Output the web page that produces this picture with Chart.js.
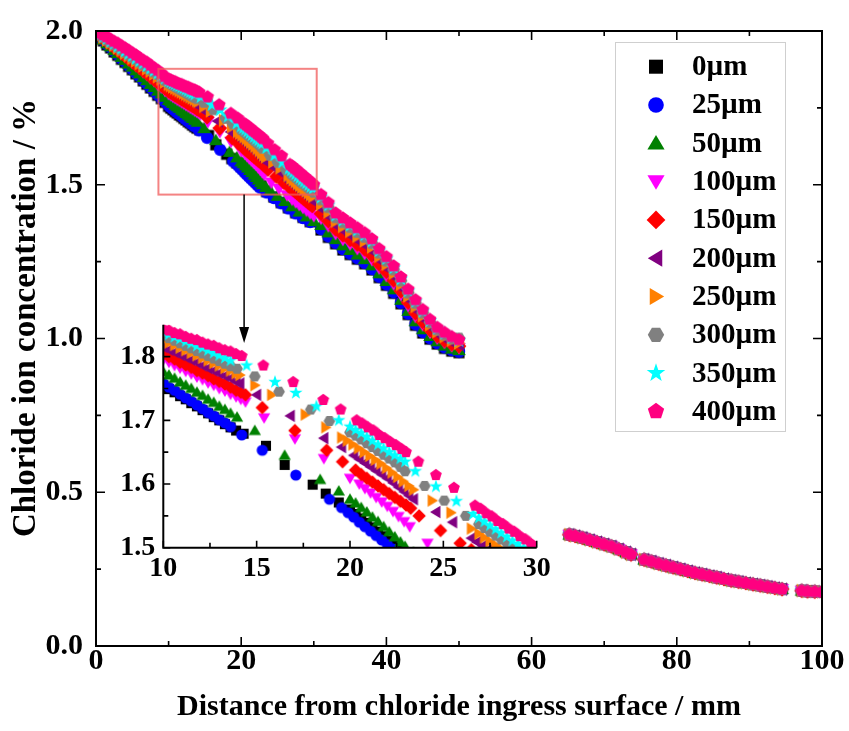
<!DOCTYPE html>
<html><head><meta charset="utf-8">
<script src="https://cdn.jsdelivr.net/npm/chart.js@4.4.1/dist/chart.umd.min.js"></script>
<style>
html,body{margin:0;padding:0;background:#fff;}
#wrap{position:relative;width:849px;height:731px;background:#fff;}
#main{position:absolute;left:0;top:0;}
#inset{position:absolute;left:100px;top:300px;}
</style></head><body>
<div id="wrap"><canvas id="main" width="849" height="731"></canvas><canvas id="inset" width="460" height="300"></canvas></div>
<script>
// ---------- DATA ----------
const labels = ['0µm','25µm','50µm','100µm','150µm','200µm','250µm','300µm','350µm','400µm'];
const xTicksMain = [0,20,40,60,80,100];
const yTicksMain = [0.0,0.5,1.0,1.5,2.0];

// shared x grids (mm)
const xHead = [0,0.5,1,1.5,2,2.5,3,3.5,4,4.5,5,5.5,6,6.5,7,7.5,8,8.5,9,9.5];
const xMid  = [31,32,33,34,35,36,37,38,39,40,41,42,43,44,45,46,47,48,49,50];
const xTail = [65.2,66,67,68,69,70,71,72,73,73.7,75.5,76.5,77.5,78.5,79.5,80.5,81.5,82.5,83.5,84.5,85.5,86.5,87.5,88.5,89.5,90.5,91.5,92.5,93.5,94.5,97.2,98,99,100];
const yTail = [0.362,0.358,0.352,0.345,0.338,0.331,0.324,0.315,0.305,0.298,0.281,0.275,0.268,0.262,0.256,0.250,0.244,0.238,0.233,0.228,0.223,0.218,0.213,0.209,0.205,0.201,0.197,0.193,0.189,0.185,0.180,0.178,0.177,0.176];

// 0 µm
const head0 = [1.991,1.979,1.968,1.955,1.945,1.932,1.921,1.908,1.898,1.885,1.874,1.861,1.851,1.838,1.827,1.815,1.804,1.791,1.780,1.768];
const inX0 = [10.0,10.3,10.6,10.9,11.2,11.5,11.8,12.1,12.4,12.7,13.0,13.3,13.6,13.9,14.3,15.5,16.5,18.0,18.7,19.4,20.0,20.3,20.6,20.9,21.2,21.5,21.8,22.1,22.4,22.7,23.5,24.5,25.5,26.5,27.5,28.5,29.5];
const inY0 = [1.755,1.749,1.744,1.738,1.733,1.727,1.722,1.716,1.711,1.705,1.700,1.694,1.689,1.684,1.679,1.660,1.630,1.599,1.585,1.571,1.560,1.553,1.546,1.539,1.532,1.525,1.518,1.511,1.504,1.497,1.478,1.460,1.442,1.425,1.409,1.394,1.380];
const mid0 = [1.353,1.329,1.308,1.288,1.273,1.258,1.243,1.223,1.198,1.173,1.147,1.113,1.078,1.043,1.018,0.998,0.982,0.968,0.959,0.954];
// 25 µm
const head25 = [1.992,1.980,1.970,1.957,1.947,1.934,1.923,1.910,1.900,1.887,1.876,1.863,1.853,1.840,1.829,1.817,1.806,1.793,1.782,1.770];
const inX25 = [10.0,10.3,10.6,10.9,11.2,11.5,11.8,12.1,12.4,12.7,13.0,13.3,13.6,14.2,15.3,17.1,18.9,19.55,19.9,20.2,20.5,20.8,21.1,21.4,21.7,22.0,22.3,22.6,23.5,24.5,25.5,26.5,27.5,28.5,29.5];
const inY25 = [1.758,1.752,1.747,1.741,1.735,1.730,1.724,1.718,1.712,1.707,1.701,1.696,1.690,1.677,1.653,1.614,1.576,1.563,1.555,1.548,1.540,1.533,1.526,1.519,1.512,1.505,1.498,1.491,1.475,1.457,1.440,1.423,1.407,1.392,1.379];
const mid25 = [1.356,1.332,1.311,1.291,1.276,1.261,1.246,1.226,1.201,1.176,1.150,1.116,1.081,1.046,1.021,1.001,0.985,0.971,0.962,0.957];
// 50 µm
const head50 = [1.993,1.982,1.972,1.960,1.950,1.938,1.928,1.916,1.906,1.894,1.884,1.872,1.862,1.850,1.840,1.828,1.818,1.806,1.797,1.786];
const inX50 = [10.0,10.3,10.6,10.9,11.2,11.5,11.8,12.1,12.4,12.7,13.0,13.3,13.6,13.95,14.9,16.5,18.4,19.4,20.0,20.3,20.6,20.9,21.2,21.5,21.8,22.1,22.4,22.7,22.95,23.4,24.0,25.0,26.0,27.0,28.0,29.0,30.0];
const inY50 = [1.776,1.771,1.766,1.760,1.755,1.750,1.744,1.739,1.733,1.728,1.722,1.717,1.711,1.705,1.684,1.645,1.607,1.589,1.576,1.570,1.563,1.556,1.548,1.541,1.533,1.525,1.517,1.509,1.502,1.493,1.482,1.464,1.447,1.430,1.413,1.397,1.382];
const mid50 = [1.369,1.345,1.323,1.303,1.288,1.273,1.258,1.238,1.212,1.187,1.160,1.126,1.090,1.056,1.030,1.008,0.991,0.977,0.967,0.962];
// 100 µm
const head100 = [1.994,1.984,1.975,1.964,1.955,1.945,1.936,1.925,1.916,1.905,1.896,1.886,1.877,1.866,1.857,1.846,1.837,1.825,1.816,1.805];
const inX100 = [10.0,10.3,10.6,10.9,11.2,11.5,11.8,12.1,12.4,12.7,13.0,13.3,13.6,13.9,14.15,14.4,15.4,17.05,18.6,20.0,20.5,20.8,21.1,21.4,21.7,22.0,22.3,22.6,22.9,23.2,24.15,25.2,26.3,27.0,27.5,28.0,28.5,29.0,29.5,30.0];
const inY100 = [1.795,1.791,1.786,1.782,1.777,1.773,1.768,1.764,1.759,1.755,1.750,1.746,1.741,1.737,1.733,1.729,1.704,1.671,1.640,1.609,1.600,1.593,1.586,1.579,1.572,1.565,1.557,1.549,1.541,1.533,1.507,1.487,1.466,1.452,1.443,1.434,1.425,1.416,1.407,1.398];
const mid100 = [1.390,1.365,1.340,1.321,1.306,1.291,1.275,1.255,1.228,1.203,1.176,1.141,1.105,1.070,1.043,1.019,1.000,0.986,0.975,0.969];
// 150 µm
const head150 = [1.994,1.985,1.976,1.966,1.957,1.947,1.938,1.928,1.919,1.909,1.900,1.890,1.881,1.871,1.862,1.852,1.843,1.833,1.824,1.814];
const inX150 = [10.0,10.3,10.6,10.9,11.2,11.5,11.8,12.1,12.4,12.7,13.0,13.3,13.6,13.9,14.15,14.4,15.3,17.05,18.75,19.6,20.3,20.6,20.9,21.2,21.5,21.8,22.1,22.4,22.7,23.0,23.25,23.7,24.85,25.9,26.5,26.8,27.1,27.4,27.7,28.0,28.3,28.6,28.9,29.2,29.5,29.8];
const inY150 = [1.804,1.800,1.796,1.791,1.787,1.783,1.778,1.774,1.770,1.765,1.761,1.757,1.752,1.747,1.744,1.740,1.720,1.684,1.653,1.635,1.622,1.615,1.609,1.603,1.597,1.591,1.585,1.579,1.573,1.567,1.562,1.550,1.527,1.507,1.497,1.491,1.485,1.479,1.473,1.467,1.461,1.455,1.449,1.443,1.437,1.431];
const mid150 = [1.406,1.382,1.355,1.336,1.321,1.306,1.290,1.270,1.242,1.217,1.189,1.154,1.117,1.082,1.054,1.028,1.008,0.993,0.982,0.975];
// 200 µm
const head200 = [1.995,1.986,1.978,1.968,1.960,1.950,1.942,1.932,1.924,1.914,1.906,1.896,1.888,1.878,1.870,1.860,1.852,1.842,1.834,1.824];
const inX200 = [10.0,10.3,10.6,10.9,11.2,11.5,11.8,12.1,12.4,12.7,13.0,13.3,13.6,13.9,14.1,15.0,16.8,18.6,19.55,20.2,20.5,20.8,21.1,21.4,21.7,22.0,22.3,22.6,22.9,23.15,23.4,24.6,25.5,26.5,26.8,27.1,27.4,27.7,28.0,28.3,28.6,28.9,29.2,29.5,29.8];
const inY200 = [1.815,1.811,1.807,1.803,1.799,1.795,1.791,1.786,1.782,1.778,1.774,1.770,1.766,1.761,1.758,1.740,1.707,1.672,1.658,1.645,1.639,1.633,1.627,1.621,1.615,1.609,1.602,1.595,1.588,1.582,1.576,1.556,1.540,1.515,1.509,1.503,1.497,1.491,1.485,1.479,1.473,1.467,1.461,1.455,1.449];
const mid200 = [1.423,1.398,1.369,1.352,1.336,1.320,1.305,1.285,1.256,1.230,1.202,1.166,1.128,1.094,1.065,1.038,1.016,1.000,0.988,0.980];
// 250 µm
const head250 = [1.995,1.987,1.979,1.971,1.962,1.954,1.945,1.937,1.928,1.920,1.911,1.903,1.894,1.886,1.877,1.869,1.860,1.851,1.843,1.834];
const inX250 = [10.0,10.3,10.6,10.9,11.2,11.5,11.8,12.1,12.4,12.7,13.0,13.3,13.6,13.9,14.1,14.9,15.8,17.6,18.7,19.55,19.85,20.15,20.45,20.75,21.05,21.35,21.65,21.95,22.25,22.55,22.85,23.15,23.4,24.4,25.4,26.5,26.9,27.2,27.5,27.8,28.1,28.4,28.7,29.0,29.3,29.6,29.9];
const inY250 = [1.826,1.822,1.818,1.814,1.810,1.806,1.802,1.798,1.794,1.790,1.786,1.782,1.778,1.774,1.771,1.755,1.740,1.709,1.689,1.673,1.668,1.662,1.656,1.650,1.644,1.638,1.632,1.625,1.618,1.611,1.604,1.597,1.591,1.574,1.555,1.530,1.522,1.516,1.510,1.504,1.498,1.492,1.486,1.480,1.474,1.468,1.462];
const mid250 = [1.437,1.411,1.381,1.364,1.348,1.332,1.317,1.297,1.267,1.241,1.212,1.176,1.138,1.104,1.074,1.045,1.022,1.006,0.994,0.985];
// 300 µm
const head300 = [1.996,1.988,1.981,1.972,1.964,1.957,1.948,1.940,1.933,1.924,1.916,1.909,1.900,1.892,1.885,1.876,1.868,1.860,1.850,1.841];
const inX300 = [10.0,10.3,10.6,10.9,11.2,11.5,11.8,12.1,12.4,12.7,13.0,13.3,13.6,13.95,14.9,16.2,17.9,18.9,20.0,20.3,20.6,20.9,21.2,21.5,21.8,22.1,22.4,22.7,22.95,24.0,25.05,26.2,26.9,27.2,27.5,27.8,28.1,28.4,28.75,29.1,29.4,29.7,30.0];
const inY300 = [1.833,1.829,1.825,1.821,1.817,1.813,1.809,1.805,1.801,1.797,1.793,1.789,1.785,1.781,1.769,1.745,1.717,1.699,1.681,1.676,1.670,1.664,1.658,1.652,1.646,1.640,1.634,1.627,1.620,1.597,1.574,1.550,1.537,1.531,1.525,1.519,1.513,1.507,1.501,1.495,1.489,1.483,1.477];
const mid300 = [1.452,1.427,1.394,1.378,1.362,1.346,1.330,1.310,1.279,1.253,1.224,1.188,1.149,1.115,1.084,1.053,1.029,1.013,1.000,1.000];
// 350 µm
const head350 = [1.996,1.990,1.982,1.975,1.966,1.959,1.950,1.943,1.934,1.926,1.919,1.910,1.902,1.895,1.886,1.878,1.871,1.862,1.854,1.846];
const inX350 = [10.0,10.3,10.6,10.9,11.2,11.5,11.8,12.1,12.4,12.7,13.0,13.3,13.6,14.46,15.98,17.1,18.2,19.4,20.0,20.3,20.6,20.9,21.2,21.5,21.8,22.1,22.4,22.7,22.95,23.5,24.6,25.7,26.6,26.9,27.2,27.5,27.8,28.1,28.4,28.7,29.0,29.3,29.6,29.9];
const inY350 = [1.838,1.835,1.831,1.828,1.824,1.821,1.817,1.814,1.810,1.806,1.802,1.798,1.794,1.786,1.760,1.743,1.722,1.700,1.690,1.685,1.680,1.674,1.668,1.662,1.656,1.650,1.645,1.640,1.635,1.620,1.596,1.573,1.553,1.547,1.541,1.535,1.529,1.523,1.517,1.511,1.506,1.500,1.494,1.488];
const mid350 = [1.459,1.433,1.400,1.384,1.368,1.352,1.336,1.316,1.285,1.259,1.229,1.193,1.154,1.120,1.088,1.057,1.032,1.016,1.002,0.993];
// 400 µm
const head400 = [1.998,1.993,1.987,1.981,1.973,1.966,1.960,1.952,1.945,1.937,1.929,1.922,1.913,1.905,1.898,1.889,1.880,1.872,1.862,1.852];
const inX400 = [10.0,10.3,10.6,10.9,11.2,11.5,11.8,12.1,12.4,12.7,13.0,13.3,13.6,13.9,14.2,15.36,16.96,18.57,19.5,20.36,20.66,20.96,21.26,21.56,21.86,22.16,22.46,22.76,23.0,23.66,24.6,25.57,26.7,27.0,27.3,27.6,27.9,28.2,28.5,28.8,29.1,29.4,29.7,30.0];
const inY400 = [1.843,1.841,1.837,1.835,1.831,1.828,1.826,1.822,1.819,1.817,1.813,1.810,1.808,1.804,1.801,1.786,1.760,1.732,1.717,1.700,1.695,1.689,1.684,1.677,1.672,1.666,1.661,1.655,1.650,1.635,1.614,1.594,1.566,1.561,1.554,1.549,1.542,1.537,1.530,1.525,1.518,1.513,1.506,1.500];
const mid400 = [1.468,1.442,1.408,1.392,1.376,1.360,1.344,1.324,1.292,1.266,1.236,1.200,1.160,1.126,1.094,1.062,1.036,1.020,1.006,0.996];

// ---------- STYLE ----------
const colors = ['#000000','#0000FF','#008000','#FF00FF','#FF0000','#800080','#FF8000','#808080','#00FFFF','#FF0080'];
const shapes = ['square','circle','up','down','diamond','left','right','hexagon','star','pentagon'];
const heads = [head0,head25,head50,head100,head150,head200,head250,head300,head350,head400];
const inXs = [inX0,inX25,inX50,inX100,inX150,inX200,inX250,inX300,inX350,inX400];
const inYs = [inY0,inY25,inY50,inY100,inY150,inY200,inY250,inY300,inY350,inY400];
const mids = [mid0,mid25,mid50,mid100,mid150,mid200,mid250,mid300,mid350,mid400];

const FONT = "'Liberation Serif','Times New Roman',serif";
Chart.defaults.font.family = FONT;
Chart.defaults.color = '#000';

function buildPoints(i){
  const p = [];
  xHead.forEach((x,k)=>p.push({x, y:heads[i][k]}));
  const n = Math.min(inXs[i].length, inYs[i].length);
  for(let k=0;k<n;k++) p.push({x:inXs[i][k], y:inYs[i][k]});
  xMid.forEach((x,k)=>p.push({x, y:mids[i][k]}));
  xTail.forEach((x,k)=>p.push({x, y:yTail[k]}));
  return p;
}

function shapePath(g, shape, r){
  g.beginPath();
  const poly = pts=>{g.moveTo(pts[0][0],pts[0][1]); for(let k=1;k<pts.length;k++) g.lineTo(pts[k][0],pts[k][1]); g.closePath();};
  const reg = (n,R,a0)=>{const p=[];for(let k=0;k<n;k++){const a=a0+k*2*Math.PI/n;p.push([R*Math.cos(a),R*Math.sin(a)]);}poly(p);};
  switch(shape){
    case 'square': g.rect(-0.9*r,-0.9*r,1.8*r,1.8*r); break;
    case 'circle': g.arc(0,0,r,0,2*Math.PI); break;
    case 'up': poly([[0,-1.05*r],[1.1*r,0.8*r],[-1.1*r,0.8*r]]); break;
    case 'down': poly([[0,1.05*r],[1.1*r,-0.8*r],[-1.1*r,-0.8*r]]); break;
    case 'left': poly([[-1.05*r,0],[0.8*r,-1.1*r],[0.8*r,1.1*r]]); break;
    case 'right': poly([[1.05*r,0],[-0.8*r,-1.1*r],[-0.8*r,1.1*r]]); break;
    case 'diamond': poly([[0,-1.2*r],[1.2*r,0],[0,1.2*r],[-1.2*r,0]]); break;
    case 'hexagon': reg(6,1.05*r,0); break;
    case 'star': { const p=[]; for(let k=0;k<10;k++){const a=-Math.PI/2+k*Math.PI/5; const R=(k%2)?0.5*r:1.25*r; p.push([R*Math.cos(a),R*Math.sin(a)]);} poly(p); } break;
    case 'pentagon': reg(5,1.1*r,-Math.PI/2); break;
  }
}
function makeMarker(shape,color,r){
  const s = Math.ceil(2.8*r)+2;
  const c = document.createElement('canvas'); c.width=s; c.height=s;
  const g = c.getContext('2d'); g.translate(s/2,s/2); shapePath(g,shape,r); g.fillStyle=color; g.fill();
  return c;
}

const MAIN_R = 6.2, INSET_R = 5.6, LEG_R = 7.8;

function minorOf(vals){const o=[];for(let k=0;k<vals.length-1;k++)o.push((vals[k]+vals[k+1])/2);return o;}

const mainDecor = {
  id:'mainDecor',
  afterDatasetsDraw(chart){
    const {ctx, chartArea:a, scales:{x,y}} = chart;
    ctx.save();
    // red zoom box
    ctx.strokeStyle='rgba(240,90,90,0.75)'; ctx.lineWidth=2;
    const bx1=x.getPixelForValue(8.6), bx2=x.getPixelForValue(30.4), by1=y.getPixelForValue(1.877), by2=y.getPixelForValue(1.468);
    ctx.strokeRect(bx1,by1,bx2-bx1,by2-by1);
    // arrow
    const ax=x.getPixelForValue(20.4), tip=y.getPixelForValue(0.985);
    ctx.strokeStyle='#000'; ctx.fillStyle='#000'; ctx.lineWidth=1.5;
    ctx.beginPath(); ctx.moveTo(ax,by2); ctx.lineTo(ax,tip-12); ctx.stroke();
    ctx.beginPath(); ctx.moveTo(ax,tip); ctx.lineTo(ax-5,tip-16); ctx.lineTo(ax+5,tip-16); ctx.closePath(); ctx.fill();
    // frame
    ctx.lineWidth=2; ctx.strokeStyle='#000';
    ctx.strokeRect(a.left,a.top,a.right-a.left,a.bottom-a.top);
    ctx.lineWidth=1.6; ctx.beginPath();
    const xv=x.ticks.map(t=>t.value), yv=y.ticks.map(t=>t.value);
    const xt=(v,L)=>{const p=x.getPixelForValue(v);ctx.moveTo(p,a.bottom);ctx.lineTo(p,a.bottom-L);ctx.moveTo(p,a.top);ctx.lineTo(p,a.top+L);};
    const yt=(v,L)=>{const p=y.getPixelForValue(v);ctx.moveTo(a.left,p);ctx.lineTo(a.left+L,p);ctx.moveTo(a.right,p);ctx.lineTo(a.right-L,p);};
    xv.forEach(v=>xt(v,9)); minorOf(xv).forEach(v=>xt(v,5));
    yv.forEach(v=>yt(v,9)); minorOf(yv).forEach(v=>yt(v,5));
    ctx.stroke();
    ctx.restore();
  },
  afterDraw(chart){
    const ctx = chart.ctx;
    ctx.save();
    // y title
    ctx.translate(26,318); ctx.rotate(-Math.PI/2);
    ctx.font = "bold 33px "+FONT; ctx.fillStyle='#000'; ctx.textAlign='center'; ctx.textBaseline='middle';
    ctx.fillText('Chloride ion concentration / %',0,0);
    ctx.restore();
    // legend
    ctx.save();
    ctx.fillStyle='#fff'; ctx.fillRect(615.5,42.5,170,389);
    ctx.strokeStyle='#cfcfcf'; ctx.lineWidth=1; ctx.strokeRect(615.5,42.5,170,389);
    ctx.font = "bold 29px "+FONT; ctx.textAlign='left'; ctx.textBaseline='middle'; ctx.fillStyle='#000';
    labels.forEach((lab,i)=>{
      const cy = 66.7 + i*38.3;
      ctx.save(); ctx.translate(656,cy); shapePath(ctx,shapes[i],LEG_R); ctx.fillStyle=colors[i]; ctx.fill(); ctx.restore();
      ctx.fillText(lab,692,cy+1);
    });
    ctx.restore();
  }
};

const insetDecor = {
  id:'insetDecor',
  afterDatasetsDraw(chart){
    const {ctx, chartArea:a, scales:{x,y}} = chart;
    ctx.save();
    ctx.strokeStyle='#000'; ctx.lineWidth=2;
    ctx.beginPath(); ctx.moveTo(a.left,a.top); ctx.lineTo(a.left,a.bottom); ctx.lineTo(a.right,a.bottom); ctx.stroke();
    ctx.lineWidth=1.6; ctx.beginPath();
    const xv=x.ticks.map(t=>t.value), yv=y.ticks.map(t=>t.value);
    const xt=(v,L)=>{const p=x.getPixelForValue(v);ctx.moveTo(p,a.bottom);ctx.lineTo(p,a.bottom-L);};
    const yt=(v,L)=>{const p=y.getPixelForValue(v);ctx.moveTo(a.left,p);ctx.lineTo(a.left+L,p);};
    xv.forEach(v=>xt(v,7)); minorOf(xv).forEach(v=>xt(v,5));
    yv.forEach(v=>yt(v,7)); minorOf(yv).forEach(v=>yt(v,5));
    ctx.stroke();
    ctx.restore();
  }
};

function datasets(R){
  return labels.map((lab,i)=>({
    label: lab, data: buildPoints(i), pointStyle: makeMarker(shapes[i],colors[i],R),
    pointRadius: R, pointBorderWidth: 0, backgroundColor: colors[i], borderColor: colors[i],
    showLine:false, order: 10-i, clip: 0
  }));
}

new Chart(document.getElementById('main'), {
  type:'scatter',
  data:{datasets: datasets(MAIN_R)},
  options:{
    responsive:false, animation:false, events:[],
    layout:{padding:{left:0,right:27,top:26,bottom:0}},
    plugins:{legend:{display:false}, tooltip:{enabled:false}},
    scales:{
      x:{type:'linear', min:xTicksMain[0], max:xTicksMain[xTicksMain.length-1],
         grid:{display:false, drawTicks:false}, border:{display:false},
         ticks:{stepSize:20, padding:0, color:'#000', font:{size:30, weight:'bold', lineHeight:1}},
         title:{display:true, text:'Distance from chloride ingress surface / mm', color:'#000', font:{size:30, weight:'bold'}, padding:{top:0,bottom:6}},
         afterFit(s){s.height=85;}},
      y:{type:'linear', min:yTicksMain[0], max:yTicksMain[yTicksMain.length-1],
         grid:{display:false, drawTicks:false}, border:{display:false},
         ticks:{stepSize:0.5, padding:13, color:'#000', font:{size:30, weight:'bold'}, callback:v=>Number(v).toFixed(1)},
         afterFit(s){s.width=96;}}
    }
  },
  plugins:[mainDecor]
});

new Chart(document.getElementById('inset'), {
  type:'scatter',
  data:{datasets: datasets(INSET_R)},
  options:{
    responsive:false, animation:false, events:[],
    layout:{padding:{left:0,right:23.3,top:20,bottom:0}},
    plugins:{legend:{display:false}, tooltip:{enabled:false}},
    scales:{
      x:{type:'linear', min:10, max:30, grid:{display:false, drawTicks:false}, border:{display:false},
         ticks:{stepSize:5, padding:7, includeBounds:false, color:'#000', font:{size:28, weight:'bold', lineHeight:1}},
         afterFit(s){s.height=52.3;}},
      y:{type:'linear', min:1.5, max:1.85, grid:{display:false, drawTicks:false}, border:{display:false},
         ticks:{stepSize:0.1, padding:8, includeBounds:false, color:'#000', font:{size:28, weight:'bold'}, callback:v=>Number(v).toFixed(1)},
         afterFit(s){s.width=63.3;}}
    }
  },
  plugins:[insetDecor]
});
</script>
</body></html>
